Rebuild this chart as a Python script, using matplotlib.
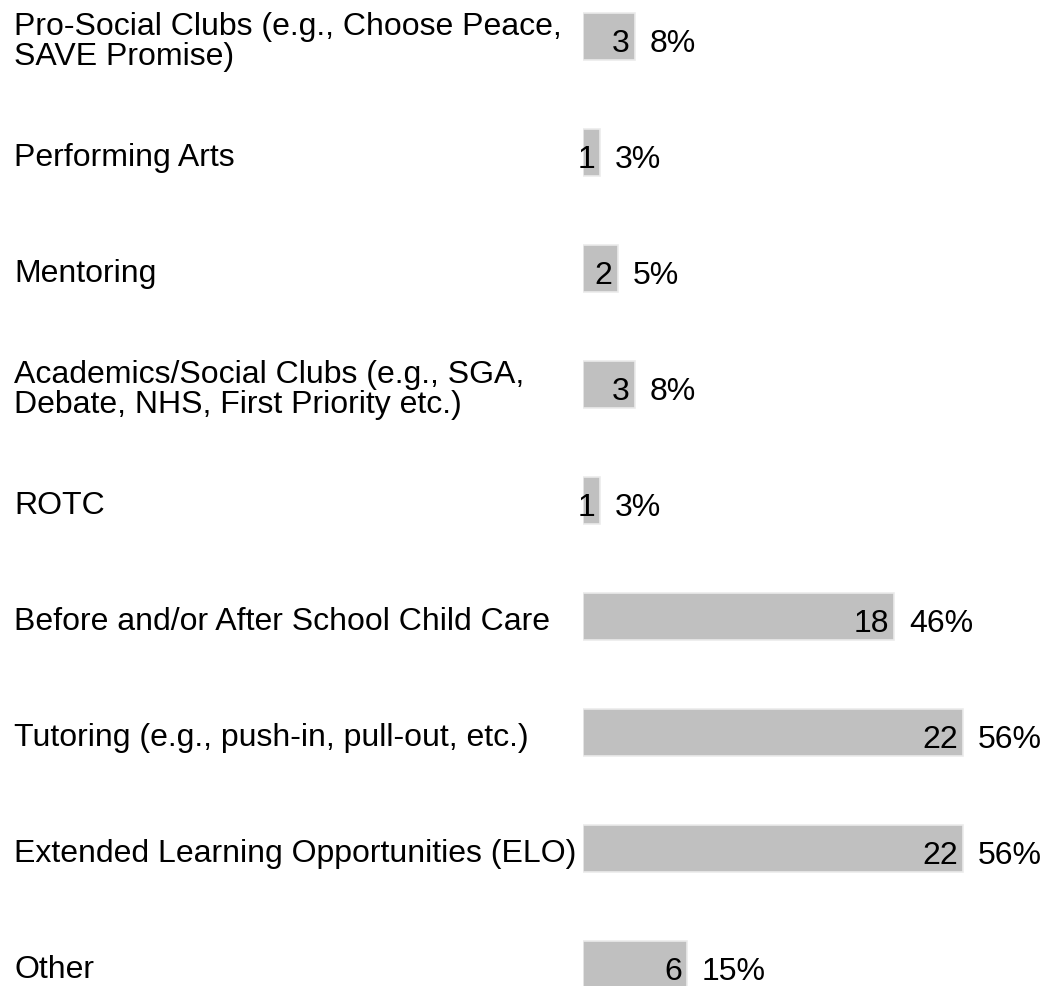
import matplotlib
matplotlib.use("Agg")
import matplotlib.pyplot as plt
from matplotlib.transforms import blended_transform_factory, offset_copy

categories = [
    "Pro-Social Clubs (e.g., Choose Peace,\nSAVE Promise)",
    "Performing Arts",
    "Mentoring",
    "Academics/Social Clubs (e.g., SGA,\nDebate, NHS, First Priority etc.)",
    "ROTC",
    "Before and/or After School Child Care",
    "Tutoring (e.g., push-in, pull-out, etc.)",
    "Extended Learning Opportunities (ELO)",
    "Other",
]
counts = [3, 1, 2, 3, 1, 18, 22, 22, 6]
percents = ["8%", "3%", "5%", "8%", "3%", "46%", "56%", "56%", "15%"]

W, H = 1042, 986
fig = plt.figure(figsize=(W / 100, H / 100), dpi=100)
x0 = 583
ax = fig.add_axes([x0 / W, 0, 1 - x0 / W, 1])
unit = 17.28
ax.set_xlim(0, (W - x0) / unit)
step = 116.0
c0 = 36.5
ax.set_ylim((H - c0) / step, -c0 / step)
ax.axis("off")

font = "Liberation Sans"
fs = 23
ypos = list(range(len(categories)))
ax.barh(ypos, counts, height=47 / step, color="#c0c0c0", edgecolor="#ebebeb", linewidth=1.2)

trans = blended_transform_factory(fig.transFigure, ax.transData)
line_gap = 29.5
for i, (lab, c, p) in enumerate(zip(categories, counts, percents)):
    lines = lab.split("\n")
    n = len(lines)
    for k, ln in enumerate(lines):
        dy = 13.5 + (k - (n - 1) / 2) * line_gap
        fig.text(14 / W, i, ln, transform=offset_copy(trans, fig=fig, x=0, y=-dy, units="dots"),
                 ha="left", va="baseline", fontsize=fs, family=font)
    ax.text(c, i, str(c), transform=offset_copy(ax.transData, fig=fig, x=-5, y=-15.5, units="dots"),
            ha="right", va="baseline", fontsize=fs, family=font)
    ax.text(c, i, p, transform=offset_copy(ax.transData, fig=fig, x=15, y=-15.5, units="dots"),
            ha="left", va="baseline", fontsize=fs, family=font)

fig.savefig("out.png", dpi=100)
